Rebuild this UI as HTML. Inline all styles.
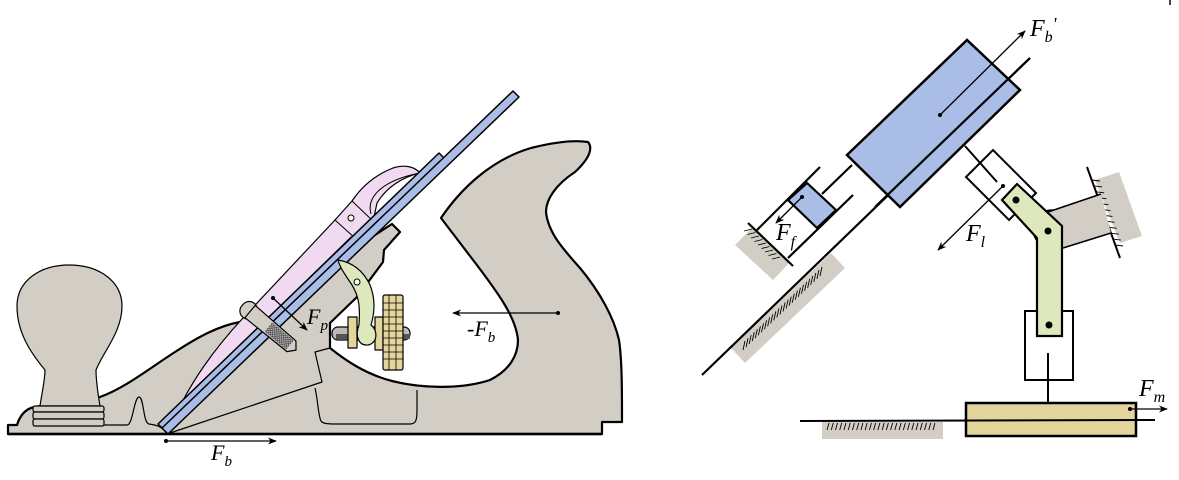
<!DOCTYPE html>
<html><head><meta charset="utf-8"><style>
html,body{margin:0;padding:0;background:#fff;}
svg{display:block;}
text{font-family:"Liberation Serif",serif;font-style:italic;fill:#000;}
</style></head><body>
<svg id="fig" width="1179" height="480" viewBox="0 0 1179 480" xmlns="http://www.w3.org/2000/svg">
<defs>
<pattern id="knurl" width="3" height="3" patternUnits="userSpaceOnUse"><rect width="3" height="3" fill="#bbb"/><path d="M0,0L3,3M3,0L0,3" stroke="#333" stroke-width="0.6"/></pattern>
<marker id="ah" viewBox="0 0 10 10" refX="9" refY="5" markerWidth="9" markerHeight="9" orient="auto" markerUnits="userSpaceOnUse"><path d="M0,1 L10,5 L0,9 L3,5 Z" fill="#000"/></marker>
</defs>

<g stroke="#000" stroke-linejoin="round">
 <path fill="#d3cec5" stroke-width="2.2"
  d="M8,425 L17,425 C20,415 26,409 34,407 L100,397 C125,388 150,368 175,352 C198,337 218,326 240,322 L392,224 L400,232 L384,250 L383,262 L357,297 L330,323 L330,348
  C345,360 365,374 392,381 C420,388 460,390 490,380 C510,370 518,355 518,340 C516,318 500,295 470,256 L441,218 C460,190 490,160 531,148 C555,142 575,140 588,142 C593,148 590,158 575,172 C555,185 546,200 546,212 C548,232 562,248 580,268 C600,292 614,318 619,340 C622,360 622,390 622,422 L602,422 L602,434 L8,434 Z"/>
 <path fill="none" stroke-width="2.5" d="M8,434 L602,434"/>
 <path fill="none" stroke-width="1.2" d="M103,425 L127,425 C133,425 134,397 139,397 C144,397 143,423 149,424 C158,425 163,428 167,433"/>
 <path fill="none" stroke-width="1.2" d="M170,433 L322,382 L315,352 L330,348"/>
 <path fill="none" stroke-width="1.2" d="M315,388 C318,400 318,415 321,421 C323,424 330,424 335,424 L410,424 C416,424 417,420 417,410 L417,390"/>

 <path fill="#d3cec5" stroke-width="1.2" d="M40,406 C42,392 45,380 45,370 C30,352 17,332 17,306 C17,281 40,265 69,265 C100,265 122,282 122,306 C122,332 103,352 96,370 C96,382 98,394 100,406 Z"/>
 <g fill="#d3cec5" stroke-width="1.2">
  <rect x="33" y="406" width="71" height="6" rx="2"/>
  <rect x="33" y="412" width="71" height="7" rx="2"/>
  <rect x="33" y="419" width="71" height="7" rx="2"/>
 </g>

 <path fill="#f0d9f1" stroke-width="1.2"
  d="M174,420 C188,385 215,348 243,318 L335,220 L352,201 C362,186 375,175 393,168 C405,164 415,167 420,173 C402,177 386,188 377,203 L373,222 Z"/>
 <path fill="none" stroke-width="1" d="M371,214 C366,196 384,180 420,173"/>
 <path fill="none" stroke-width="1" d="M335,220 L356,239 M352,201 L374,222"/>
 <circle cx="351" cy="218" r="3" fill="#fffbe0" stroke-width="1"/>
 <polygon fill="#fff" stroke-width="1" points="264,322 351,237 355,241 268,326"/>

 <polygon fill="#aabde6" stroke-width="1.5" points="168,434 158,424 439,153 446,160"/>
 <polygon fill="#aabde6" stroke-width="1.5" points="168,434 162,428 513,91 519,97"/>

 <g transform="translate(247,309) rotate(40)">
  <rect x="-6" y="-9" width="16" height="18" rx="8" fill="#d3cec5" stroke-width="1.2"/>
  <path d="M4,-8 L58,-7 L64,0 L58,7 L4,8 Z" fill="#d3cec5" stroke-width="1.2"/>
  <rect x="28" y="-6" width="28" height="12" fill="url(#knurl)" stroke="none"/>
 </g>

 <g>
  <rect x="332" y="327" width="78" height="13" rx="6" fill="#bdbab4" stroke-width="1.2"/>
  <rect x="336" y="334" width="74" height="5" fill="#555" stroke="none"/>
  <rect x="348" y="317" width="9" height="31" fill="#e4d59c" stroke-width="1.2"/>
  <rect x="375" y="317" width="8" height="33" fill="#e4d59c" stroke-width="1.2"/>
  <g fill="#e4d59c" stroke-width="1.2">
   <rect x="383" y="295" width="20" height="75" rx="2"/>
   <path fill="none" stroke-width="0.8" d="M389,295V370M396,295V370M383,303H403M383,310H403M383,317H403M383,324H403M383,331H403M383,338H403M383,345H403M383,352H403M383,359H403"/>
  </g>
 </g>
 <path fill="#dde8bc" stroke-width="1.2"
  d="M338,260 C350,262 362,268 370,285 C376,300 374,315 371,325 C378,330 378,343 368,345 C358,346 355,335 359,325 C360,310 360,298 352,285 C346,276 340,268 338,260 Z"/>
 <circle cx="357" cy="282" r="3" fill="#fff" stroke-width="1"/>

 <g stroke-width="1.3" fill="none">
  <line x1="273" y1="298" x2="307" y2="330" marker-end="url(#ah)"/>
  <circle cx="273" cy="298" r="2" fill="#000" stroke="none"/>
  <line x1="558" y1="313" x2="453" y2="313" marker-end="url(#ah)"/>
  <circle cx="558" cy="313" r="2" fill="#000" stroke="none"/>
  <line x1="166" y1="441" x2="276" y2="441" marker-end="url(#ah)"/>
  <circle cx="166" cy="441" r="2" fill="#000" stroke="none"/>
 </g>
</g>
<text x="307" y="324" font-size="22">F<tspan font-size="15" dy="6">p</tspan></text>
<text x="467" y="336" font-size="22">-F<tspan font-size="15" dy="6">b</tspan></text>
<text x="211" y="460" font-size="22">F<tspan font-size="15" dy="6">b</tspan></text>

<g stroke="#000" stroke-linejoin="miter">
 <polygon fill="#d3cec5" stroke="none" points="731,348 745,363 845,268 831,253"/>
 <polygon fill="#d3cec5" stroke="none" points="735,245 773,280 790,262 752,228"/>
 <polygon fill="#d3cec5" stroke="none" points="822,422 943,422 943,439 822,439"/>
 <polygon fill="#d3cec5" stroke="none" points="1095,180 1119,172 1142,236 1120,243"/>
 <g id="hatches" stroke-width="0.9"></g>

 <line x1="702" y1="375" x2="1030" y2="58" stroke-width="2.2"/>

 <g stroke-width="2.2" fill="none">
  <line x1="748" y1="223" x2="793" y2="266"/>
  <line x1="757" y1="230" x2="820" y2="167"/>
  <line x1="788" y1="258" x2="853" y2="195"/>
  <line x1="822" y1="194" x2="852" y2="165"/>
  <polygon fill="#aabde6" points="788,200 807,183 836,210 817,228"/>
 </g>

 <polygon fill="#aabde6" stroke-width="2.5" points="847,155 967,40 1020,90 900,207"/>
 <line x1="875" y1="207" x2="1030" y2="58" stroke-width="2.2"/>

 <g stroke-width="2" fill="none">
  <line x1="965" y1="146" x2="997" y2="182"/>
  <polygon points="966,177 993,150 1036,193 1009,220"/>
 </g>

 <line x1="1087" y1="167" x2="1120" y2="258" stroke-width="2"/>
 <g fill="#d3cec5" stroke-width="1.6">
  <circle cx="1052" cy="229" r="19"/>
  <polygon points="1048,212 1101,194 1111,233 1063,248" stroke="none"/>
  <line x1="1048" y1="212" x2="1101" y2="194"/>
  <line x1="1063" y1="248" x2="1111" y2="233"/>
 </g>

 <rect x="1025" y="311" width="48" height="69" fill="#fff" stroke-width="2"/>
 <line x1="1048" y1="353" x2="1048" y2="403" stroke-width="2"/>

 <polygon fill="#dde8bc" stroke-width="2.2" points="1002,200 1017,184 1062,226 1062,336 1037,336 1037,238"/>
 <circle cx="1016" cy="200" r="3.5" fill="#000" stroke="none"/>
 <circle cx="1048" cy="231" r="3.5" fill="#000" stroke="none"/>
 <circle cx="1049" cy="325" r="3.5" fill="#000" stroke="none"/>

 <rect x="966" y="403" width="170" height="33" fill="#e3d59c" stroke-width="2.5"/>
 <line x1="800" y1="421" x2="1155" y2="420" stroke-width="2"/>

 <g stroke-width="1.3" fill="none">
  <line x1="940" y1="115" x2="1025" y2="31" marker-end="url(#ah)"/>
  <circle cx="940" cy="115" r="2" fill="#000" stroke="none"/>
  <line x1="802" y1="197" x2="776" y2="223" marker-end="url(#ah)"/>
  <circle cx="802" cy="197" r="2" fill="#000" stroke="none"/>
  <line x1="1003" y1="186" x2="938" y2="250" marker-end="url(#ah)"/>
  <circle cx="1003" cy="186" r="2" fill="#000" stroke="none"/>
  <line x1="1130" y1="409" x2="1167" y2="409" marker-end="url(#ah)"/>
  <circle cx="1130" cy="409" r="2" fill="#000" stroke="none"/>
 </g>
 <line x1="1170" y1="0" x2="1170" y2="5" stroke-width="1.5"/>
</g>
<text x="1030" y="36" font-size="24">F<tspan font-size="16" dy="6">b</tspan><tspan dy="-12" font-size="18">'</tspan></text>
<text x="776" y="240" font-size="24">F<tspan font-size="16" dy="7">f</tspan></text>
<text x="966" y="241" font-size="24">F<tspan font-size="16" dy="6">l</tspan></text>
<text x="1139" y="396" font-size="24">F<tspan font-size="16" dy="6">m</tspan></text>

<script>
var g = document.getElementById('hatches');
function hatchRow(x0, y0, x1, y1, n, dx, dy) {
  for (var i = 0; i < n; i++) {
    var t = i / (n - 1);
    var x = x0 + (x1 - x0) * t, y = y0 + (y1 - y0) * t;
    var l = document.createElementNS('http://www.w3.org/2000/svg', 'line');
    l.setAttribute('x1', x); l.setAttribute('y1', y);
    l.setAttribute('x2', x + dx); l.setAttribute('y2', y + dy);
    
    
    g.appendChild(l);
  }
}
hatchRow(745, 341, 822, 267, 26, -2, 9);
hatchRow(752, 229, 780, 257, 9, -8, 2);
hatchRow(829, 423, 935, 423, 26, -2, 7);
hatchRow(1092, 180, 1115, 245, 12, 8, 1);
</script>
</svg>
</body></html>
